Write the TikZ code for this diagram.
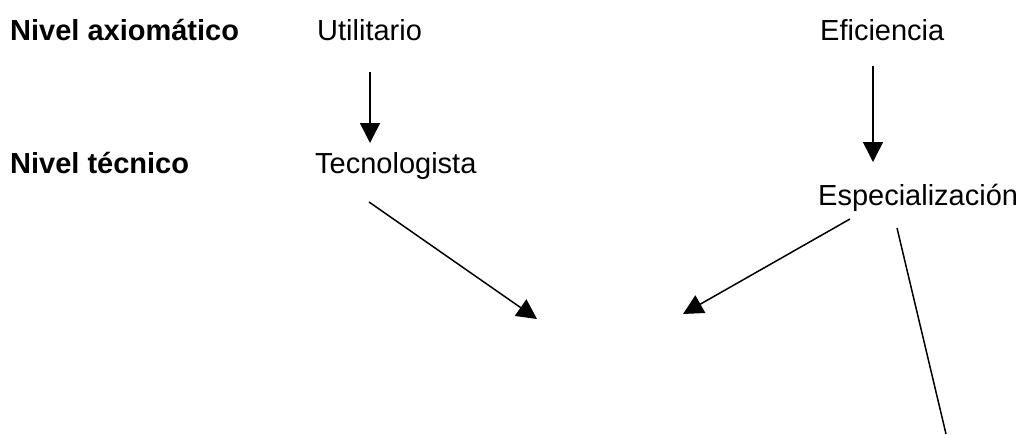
\documentclass[tikz,border=0pt]{standalone}
\usepackage{fontspec}
\setmainfont{Liberation Sans}
\usetikzlibrary{arrows.meta}
\begin{document}
\begin{tikzpicture}[x=1pt,y=-1pt,
  lbl/.style={anchor=base west,inner sep=0pt,font=\fontsize{29}{34}\selectfont},
  hdr/.style={lbl,font=\fontsize{29}{34}\selectfont\bfseries},
  conn/.style={line width=1.5pt,-{Triangle[length=20pt,width=20pt]}},
  plain/.style={line width=1.5pt}]
\useasboundingbox (0,0) rectangle (1020,434);
\node[hdr] (axio) at (10,40) {Nivel axiomático};
\node[hdr] (tecn) at (10,173) {Nivel técnico};
\node[lbl] (util) at (317,40) {Utilitario};
\node[lbl] (efic) at (820,40) {Eficiencia};
\node[lbl] (tecno) at (315,173) {Tecnologista};
\node[lbl] (espec) at (818,205) {Especialización};
\coordinate (utilOut) at (370,72);
\coordinate (tecnoIn) at (370,143);
\coordinate (eficOut) at (873,66);
\coordinate (especIn) at (873,162);
\coordinate (tecnoOut) at (369,202);
\coordinate (centerA) at (537,319);
\coordinate (especOutA) at (850,219);
\coordinate (centerB) at (683,314);
\coordinate (especOutB) at (897,228);
\coordinate (bottomEnd) at (946,434);
\draw[conn] (utilOut) -- (tecnoIn);
\draw[conn] (eficOut) -- (especIn);
\draw[conn] (tecnoOut) -- (centerA);
\draw[conn] (especOutA) -- (centerB);
\draw[plain] (especOutB) -- (bottomEnd);
\end{tikzpicture}
\end{document}
